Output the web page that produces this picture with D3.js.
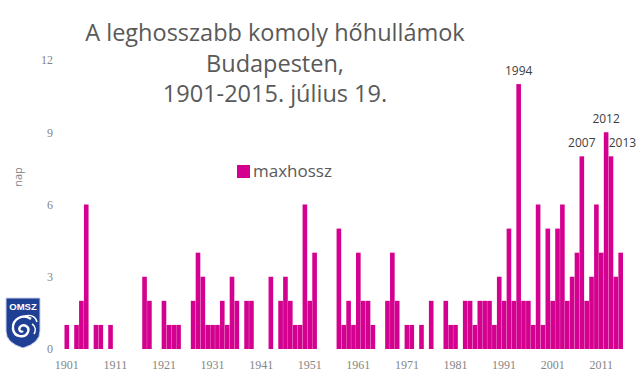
<!DOCTYPE html>
<html>
<head>
<meta charset="utf-8">
<script src="https://cdn.jsdelivr.net/npm/d3@7"></script>
<style>
  body { margin: 0; background: #fff; }
  svg { display: block; }
</style>
</head>
<body>
<div id="chart"></div>
<script>

var years = d3.range(1901, 2016);
var maxhossz = [
  1, 0, 1, 2, 6, 0, 1, 1, 0, 1,   // 1901-1910
  0, 0, 0, 0, 0, 0, 3, 2, 0, 0,   // 1911-1920
  2, 1, 1, 1, 0, 0, 2, 4, 3, 1,   // 1921-1930
  1, 1, 2, 1, 3, 2, 0, 2, 2, 0,   // 1931-1940
  0, 0, 3, 0, 2, 3, 2, 1, 1, 6,   // 1941-1950
  2, 4, 0, 0, 0, 0, 5, 1, 2, 1,   // 1951-1960
  4, 2, 2, 1, 0, 0, 2, 4, 2, 0,   // 1961-1970
  1, 1, 0, 1, 0, 2, 0, 0, 2, 1,   // 1971-1980
  1, 0, 2, 2, 1, 2, 2, 2, 1, 3,   // 1981-1990
  2, 5, 2, 11, 2, 2, 1, 6, 1, 5,  // 1991-2000
  2, 5, 6, 2, 3, 4, 8, 2, 3, 6,   // 2001-2010
  4, 9, 8, 3, 4                   // 2011-2015
];
var x_ticks = [1901, 1911, 1921, 1931, 1941, 1951, 1961, 1971, 1981, 1991, 2001, 2011];
var y_ticks = [0, 3, 6, 9, 12];
var marked_years = [1994, 2007, 2012, 2013];
var title_lines = ["A leghosszabb komoly hőhullámok", "Budapesten,", "1901-2015. július 19."];
var series_name = "maxhossz";
var y_label = "nap";

var barColor = "#d4008f";

function draw_chart() {

    var data = years.map(function(y, i) { return {'year': y, 'value': maxhossz[i]}; });

    var width = 640, height = 378;

    var svg = d3.select("#chart").append("svg")
        .attr("width", width)
        .attr("height", height);

    var x = d3.scaleBand()
        .domain(years)
        .range([64.5, 623])
        .paddingInner(0.05);
    var y = d3.scaleLinear()
        .domain([0, 12])
        .range([349, 60]);

    // title
    svg.append("g").selectAll("text")
        .data(title_lines)
        .enter().append("text")
        .attr("x", 275)
        .attr("y", function(d, i) { return 41 + i * 30.7; })
        .attr("text-anchor", "middle")
        .style("font-family", "'Open Sans', sans-serif")
        .style("font-size", "23.5px")
        .style("fill", "#595959")
        .text(function(d) { return d; });

    // y axis, labels only
    var yAxis = svg.append("g")
        .attr("transform", "translate(56,0)")
        .call(d3.axisLeft(y).tickValues(y_ticks).tickSize(0).tickPadding(3));
    yAxis.select(".domain").remove();
    yAxis.selectAll("text")
        .style("font-family", "'Liberation Serif', serif")
        .style("font-size", "12px")
        .style("fill", "#858585");

    // x axis, labels only
    var xAxis = svg.append("g")
        .attr("transform", "translate(0,352)")
        .call(d3.axisBottom(x).tickValues(x_ticks).tickSize(0).tickPadding(8));
    xAxis.select(".domain").remove();
    xAxis.selectAll("text")
        .style("font-family", "'Liberation Serif', serif")
        .style("font-size", "12px")
        .style("fill", "#858585");

    svg.append("text")
        .attr("transform", "translate(22,177) rotate(-90)")
        .attr("text-anchor", "middle")
        .style("font-family", "'Open Sans', sans-serif")
        .style("font-size", "11px")
        .style("fill", "#858585")
        .text(y_label);

    // bars
    svg.append("g").selectAll("rect")
        .data(data.filter(function(d) { return d.value > 0; }))
        .enter().append("rect")
        .attr("x", function(d) { return x(d.year); })
        .attr("y", function(d) { return y(d.value); })
        .attr("width", x.bandwidth())
        .attr("height", function(d) { return y(0) - y(d.value); })
        .style("fill", barColor);

    // year labels above the longest ones
    svg.append("g").selectAll("text")
        .data(data.filter(function(d) { return marked_years.indexOf(d.year) >= 0; }))
        .enter().append("text")
        .attr("x", function(d) { return d.year == 2013 ? x(d.year) : x(d.year) + x.bandwidth() / 2; })
        .attr("y", function(d) { return y(d.value) - 9; })
        .attr("text-anchor", function(d) { return d.year == 2013 ? "start" : "middle"; })
        .style("font-family", "'Open Sans', sans-serif")
        .style("font-size", "12px")
        .style("fill", "#404040")
        .text(function(d) { return d.year; });

    // legend
    var legend = svg.append("g").attr("transform", "translate(237,165)");
    legend.append("rect")
        .attr("width", 13)
        .attr("height", 13)
        .style("fill", barColor);
    legend.append("text")
        .attr("x", 16)
        .attr("y", 12)
        .style("font-family", "'Open Sans', sans-serif")
        .style("font-size", "17px")
        .style("fill", "#595959")
        .text(series_name);

    draw_logo(svg);
}


/* small OMSZ shield in the lower left corner */
function draw_logo(svg) {
    var g = svg.append("g").attr("transform", "translate(5,297)");
    g.append("path")
        .attr("d", "M1,1 H35 V34 Q35,46 18,51 Q1,46 1,34 Z")
        .style("fill", "#1f3f95")
        .style("stroke", "#c9d3ea")
        .style("stroke-width", 1);
    g.append("text")
        .attr("x", 18)
        .attr("y", 13)
        .attr("text-anchor", "middle")
        .style("font-family", "'Liberation Sans', sans-serif")
        .style("font-weight", "bold")
        .style("font-size", "9.5px")
        .style("fill", "#fff")
        .text("OMSZ");
    // swirl
    g.append("path")
        .attr("d", "M26,22 C18,16 7,22 8,32 C9,40 20,42 23,35 C25,30 19,26 15,30 C13,33 16,36 18,34")
        .style("fill", "none")
        .style("stroke", "#fff")
        .style("stroke-width", 2.4);
    g.append("path")
        .attr("d", "M20,19 C26,17 31,20 32,25 M27,27 C31,29 31,34 29,37")
        .style("fill", "none")
        .style("stroke", "#fff")
        .style("stroke-width", 1.4);
}

draw_chart();

</script>
</body>
</html>
